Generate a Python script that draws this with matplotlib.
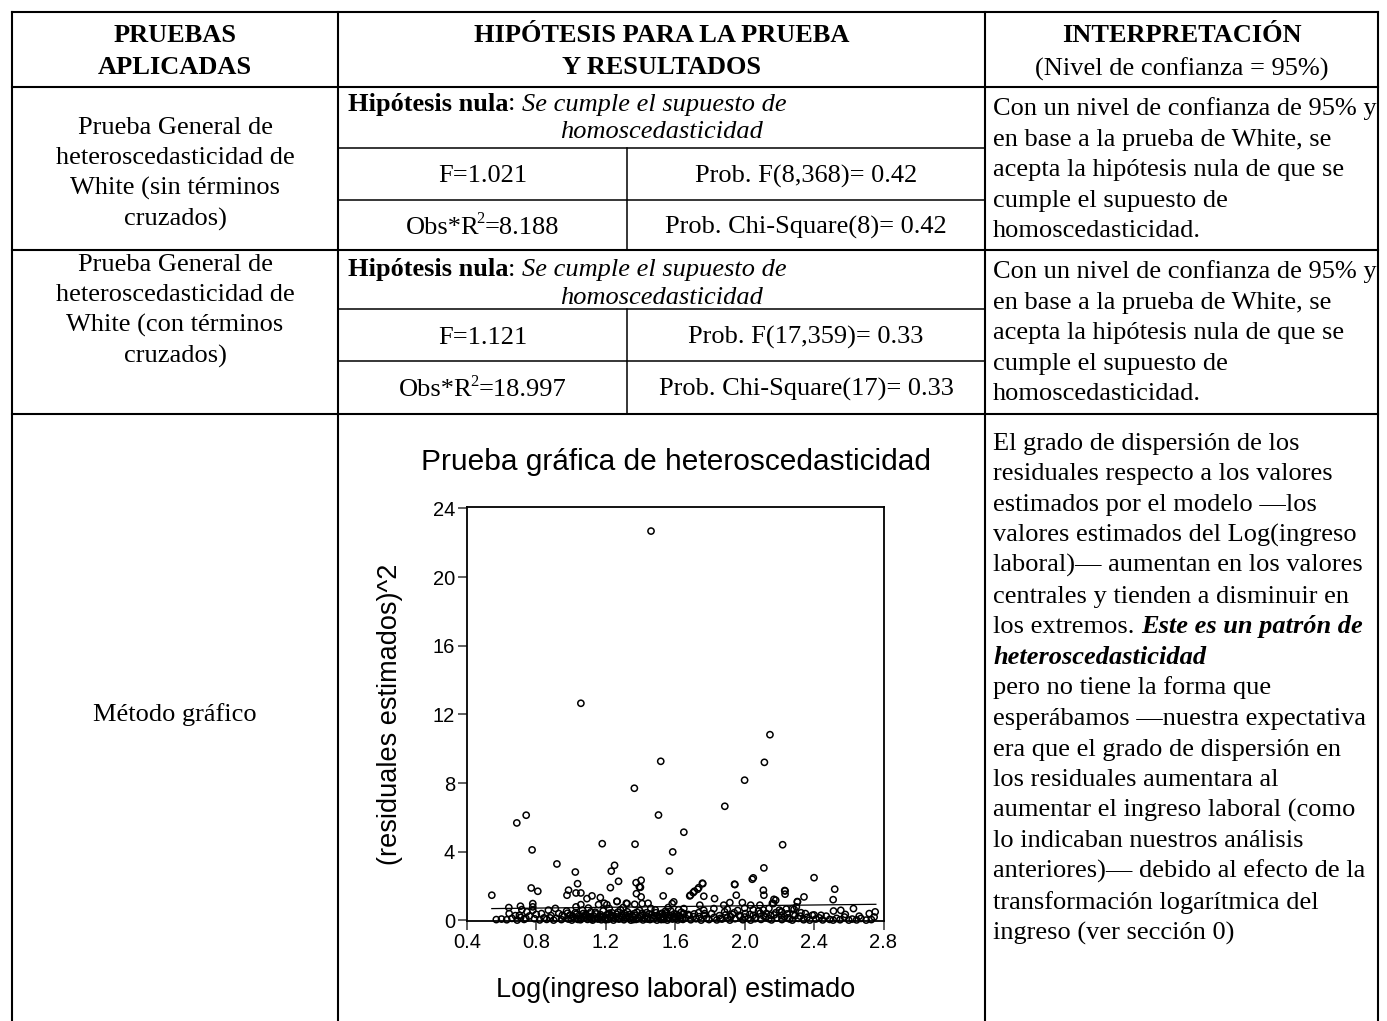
import matplotlib
matplotlib.use("Agg")
import matplotlib.pyplot as plt

# ---------------- DATA ----------------
header_col1 = ["PRUEBAS", "APLICADAS"]
header_col2 = ["HIPÓTESIS PARA LA PRUEBA", "Y RESULTADOS"]
header_col3_bold = "INTERPRETACIÓN"
header_col3_sub = "(Nivel de confianza = 95%)"

test1_name = ["Prueba General de", "heteroscedasticidad de", "White (sin términos", "cruzados)"]
test2_name = ["Prueba General de", "heteroscedasticidad de", "White (con términos", "cruzados)"]
test3_name = "Método gráfico"

null_hyp_label = "Hipótesis nula"
null_hyp_text = "Se cumple el supuesto de"
null_hyp_text2 = "homoscedasticidad"

test1_F = "F=1.021"
test1_probF = "Prob. F(8,368)= 0.42"
test1_obs = "8.188"
test1_probChi = "Prob. Chi-Square(8)= 0.42"
test2_F = "F=1.121"
test2_probF = "Prob. F(17,359)= 0.33"
test2_obs = "18.997"
test2_probChi = "Prob. Chi-Square(17)= 0.33"

interp_white = ["Con un nivel de confianza de 95% y", "en base a la prueba de White, se",
                "acepta la hipótesis nula de que se", "cumple el supuesto de",
                "homoscedasticidad."]

interp_graph = [
    [("El grado de dispersión de los", "n")],
    [("residuales respecto a los valores", "n")],
    [("estimados por el modelo —los", "n")],
    [("valores estimados del Log(ingreso", "n")],
    [("laboral)— aumentan en los valores", "n")],
    [("centrales y tienden a disminuir en", "n")],
    [("los extremos. ", "n"), ("Este es un patrón de", "bi")],
    [("heteroscedasticidad", "bi")],
    [("pero no tiene la forma que", "n")],
    [("esperábamos —nuestra expectativa", "n")],
    [("era que el grado de dispersión en", "n")],
    [("los residuales aumentara al", "n")],
    [("aumentar el ingreso laboral (como", "n")],
    [("lo indicaban nuestros análisis", "n")],
    [("anteriores)— debido al efecto de la", "n")],
    [("transformación logarítmica del", "n")],
    [("ingreso (ver sección 0)", "n")],
]

chart_title = "Prueba gráfica de heteroscedasticidad"
x_label = "Log(ingreso laboral) estimado"
y_label = "(residuales estimados)^2"
x_ticks = [0.4, 0.8, 1.2, 1.6, 2.0, 2.4, 2.8]
x_tick_labels = ["0.4", "0.8", "1.2", "1.6", "2.0", "2.4", "2.8"]
y_ticks = [0, 4, 8, 12, 16, 20, 24]
y_tick_labels = ["0", "4", "8", "12", "16", "20", "24"]

# scatter: (Log ingreso estimado, residual^2)
points_high = [
    (1.461, 22.68), (1.057, 12.65), (2.146, 10.82), (1.517, 9.27), (2.114, 9.21),
    (2.000, 8.17), (1.365, 7.70), (1.886, 6.65), (0.742, 6.13), (0.688, 5.68),
    (1.504, 6.14), (1.650, 5.14), (1.180, 4.47), (1.369, 4.44), (2.219, 4.41),
    (0.776, 4.11), (1.586, 3.99), (0.919, 3.29), (1.251, 3.21), (2.111, 3.06),
    (1.025, 2.82), (1.232, 2.87), (1.567, 2.88), (1.274, 2.28), (1.375, 2.20),
    (1.404, 2.34), (1.038, 2.14), (2.050, 2.48), (2.044, 2.40), (1.759, 2.14),
    (2.400, 2.49), (1.757, 2.17), (1.942, 2.11),
]
points_mid = [
    (1.394, 1.95), (1.227, 1.91), (1.377, 1.56), (1.404, 1.37), (0.986, 1.76),
    (0.977, 1.47), (1.029, 1.60), (1.057, 1.60), (1.092, 1.27), (1.121, 1.43),
    (1.169, 1.33), (1.531, 1.43), (0.771, 1.89), (0.809, 1.70), (0.544, 1.47),
    (1.736, 1.91), (1.711, 1.70), (1.688, 1.47), (1.944, 2.09), (1.765, 1.41),
    (1.827, 1.27), (1.952, 1.47), (2.108, 1.76), (2.111, 1.47), (2.169, 1.23),
    (2.519, 1.82), (2.510, 1.21), (2.233, 1.72), (2.233, 1.53), (2.342, 1.37),
    (2.179, 1.18), (1.684, 1.43), (1.704, 1.62), (1.730, 1.82), (1.987, 1.04),
    (1.400, 1.93), (1.265, 1.10), (1.319, 1.00), (1.367, 0.94), (1.444, 1.00),
    (1.192, 1.00), (2.231, 1.74), (2.304, 1.10), (2.160, 1.00),
]
points_low = [
    (0.642, 0.75), (0.644, 0.40), (0.709, 0.83), (0.717, 0.63), (0.780, 0.98),
    (0.780, 0.79), (0.780, 0.59), (0.746, 0.50), (0.703, 0.30), (1.057, 0.92),
    (1.029, 0.79), (1.159, 0.92), (1.207, 0.92), (1.265, 1.12), (1.323, 0.98),
    (1.410, 0.98), (1.544, 0.54), (1.583, 0.98), (1.592, 1.08), (1.915, 1.04),
    (2.035, 0.89), (2.088, 0.89), (1.880, 0.89), (1.823, 0.69), (1.742, 0.89),
    (1.765, 0.59), (1.650, 0.69), (2.166, 0.98), (2.304, 1.08), (2.298, 0.79),
    (2.275, 0.69), (2.627, 0.69), (2.554, 0.59), (2.752, 0.50), (2.213, 0.50),
    (2.718, 0.40), (2.746, 0.20), (2.108, 0.61), (2.212, 0.51), (2.285, 0.65),
    (2.400, 0.32), (2.512, 0.55), (1.220, 0.70), (1.300, 0.75), (1.100, 0.72),
    (1.460, 0.70), (1.560, 0.75), (1.620, 0.62), (1.900, 0.65), (2.000, 0.72),
    (2.050, 0.62), (2.140, 0.70), (2.240, 0.66), (0.870, 0.60), (0.910, 0.70),
]
points_base = [
    (0.57, 0.05), (0.60, 0.08), (0.63, 0.04), (0.66, 0.12), (0.69, 0.02), (0.71, 0.18),
    (0.73, 0.06), (0.76, 0.26), (0.79, 0.10), (0.80, 0.35), (0.82, 0.03), (0.845, 0.15),
    (0.86, 0.06), (0.885, 0.28), (0.90, 0.02), (0.915, 0.12), (0.93, 0.40), (0.945, 0.05),
    (0.96, 0.22), (0.975, 0.55), (0.985, 0.08), (0.995, 0.32), (1.005, 0.02), (1.015, 0.18),
    (1.025, 0.45), (1.035, 0.10), (1.045, 0.28), (1.055, 0.04), (1.065, 0.60), (1.075, 0.15),
    (1.085, 0.35), (1.095, 0.06), (1.105, 0.22), (1.115, 0.50), (1.125, 0.02), (1.135, 0.12),
    (1.145, 0.38), (1.155, 0.08), (1.165, 0.25), (1.175, 0.04), (1.185, 0.55), (1.195, 0.15),
    (1.205, 0.32), (1.215, 0.06), (1.225, 0.20), (1.235, 0.45), (1.245, 0.02), (1.255, 0.12),
    (1.265, 0.36), (1.275, 0.08), (1.285, 0.62), (1.295, 0.18), (1.305, 0.04), (1.315, 0.28),
    (1.325, 0.50), (1.335, 0.10), (1.345, 0.02), (1.355, 0.22), (1.365, 0.40), (1.375, 0.06),
    (1.385, 0.15), (1.395, 0.58), (1.405, 0.30), (1.415, 0.03), (1.425, 0.12), (1.435, 0.45),
    (1.445, 0.20), (1.455, 0.05), (1.465, 0.35), (1.475, 0.10), (1.485, 0.62), (1.495, 0.02),
    (1.505, 0.25), (1.515, 0.15), (1.525, 0.42), (1.535, 0.06), (1.545, 0.30), (1.555, 0.02),
    (1.565, 0.18), (1.575, 0.55), (1.585, 0.08), (1.595, 0.38), (1.605, 0.12), (1.615, 0.03),
    (1.625, 0.26), (1.635, 0.48), (1.645, 0.06), (1.66, 0.15), (1.675, 0.35), (1.69, 0.04),
    (1.705, 0.22), (1.72, 0.10), (1.735, 0.45), (1.75, 0.02), (1.765, 0.30), (1.78, 0.12),
    (1.795, 0.05), (1.81, 0.40), (1.825, 0.18), (1.84, 0.03), (1.855, 0.28), (1.87, 0.08),
    (1.885, 0.50), (1.90, 0.15), (1.915, 0.02), (1.93, 0.35), (1.945, 0.10), (1.96, 0.58),
    (1.975, 0.22), (1.99, 0.04), (2.005, 0.40), (2.02, 0.12), (2.035, 0.02), (2.05, 0.30),
    (2.065, 0.18), (2.08, 0.55), (2.095, 0.06), (2.11, 0.25), (2.125, 0.40), (2.14, 0.10),
    (2.155, 0.03), (2.17, 0.32), (2.185, 0.15), (2.20, 0.60), (2.215, 0.05), (2.23, 0.22),
    (2.245, 0.38), (2.26, 0.08), (2.275, 0.02), (2.29, 0.28), (2.31, 0.12), (2.325, 0.45),
    (2.34, 0.04), (2.36, 0.18), (2.375, 0.02), (2.39, 0.30), (2.41, 0.08), (2.43, 0.15),
    (2.45, 0.03), (2.47, 0.25), (2.49, 0.06), (2.51, 0.02), (2.53, 0.12), (2.55, 0.04),
    (2.575, 0.20), (2.60, 0.02), (2.62, 0.08), (2.645, 0.03), (2.67, 0.12), (2.70, 0.02),
    (2.73, 0.05), (1.00, 0.12), (1.04, 0.06), (1.08, 0.20), (1.12, 0.08), (1.16, 0.14),
    (1.20, 0.04), (1.24, 0.26), (1.28, 0.10), (1.32, 0.16), (1.36, 0.05), (1.40, 0.20),
    (1.44, 0.08), (1.48, 0.28), (1.52, 0.05), (1.56, 0.12), (1.60, 0.22), (1.64, 0.10),
]
points_base2 = [
    (0.98, 0.42), (1.01, 0.25), (1.03, 0.36), (1.06, 0.12), (1.07, 0.40), (1.09, 0.28),
    (1.11, 0.16), (1.13, 0.26), (1.14, 0.48), (1.17, 0.34), (1.18, 0.20), (1.21, 0.12),
    (1.22, 0.42), (1.23, 0.30), (1.26, 0.22), (1.27, 0.48), (1.29, 0.30), (1.31, 0.40),
    (1.33, 0.24), (1.34, 0.36), (1.37, 0.28), (1.38, 0.48), (1.39, 0.10), (1.41, 0.42),
    (1.43, 0.28), (1.45, 0.38), (1.47, 0.18), (1.49, 0.45), (1.51, 0.35), (1.53, 0.22),
    (1.55, 0.45), (1.57, 0.30), (1.59, 0.20), (1.61, 0.35), (1.63, 0.15), (1.65, 0.40),
    (1.68, 0.28), (1.71, 0.38), (1.74, 0.22), (1.77, 0.40), (1.86, 0.12), (1.89, 0.32),
    (1.92, 0.22), (1.94, 0.45), (1.97, 0.30), (2.00, 0.20), (2.03, 0.35), (2.06, 0.10),
    (2.09, 0.42), (2.12, 0.20), (2.15, 0.30), (2.18, 0.45), (2.21, 0.28), (2.25, 0.15),
    (2.28, 0.35), (2.32, 0.25), (2.35, 0.40), (2.44, 0.30), (2.58, 0.35), (2.66, 0.25),
    (0.95, 0.30), (0.88, 0.15), (0.83, 0.40), (0.74, 0.12), (0.68, 0.28),
]
fit_x = [0.544, 2.756]
fit_y = [0.69, 0.94]

# ---------------- FIGURE ----------------
W, H = 1387, 1021
fig = plt.figure(figsize=(W / 100, H / 100), dpi=100)
bg = fig.add_axes([0, 0, 1, 1])
bg.set_xlim(0, W)
bg.set_ylim(H, 0)
bg.axis("off")
renderer = fig.canvas.get_renderer()

SERIF = "Liberation Serif"
SANS = "Liberation Sans"
FS = 19.0

# table grid
X0, X1, XS, X2, X3 = 12, 338, 627, 985, 1378
Y0, YH = 12, 87
R1 = (87, 148, 200, 250)
R2 = (250, 309, 361, 414)
LW_MAJOR, LW_MINOR = 1.5, 1.1
for x in (X0, X1, X2, X3):
    bg.plot([x, x], [Y0, H + 2], color="black", lw=LW_MAJOR, solid_capstyle="projecting")
for y in (Y0, YH, R1[3], R2[3]):
    bg.plot([X0, X3], [y, y], color="black", lw=LW_MAJOR, solid_capstyle="projecting")
for r in (R1, R2):
    bg.plot([X1, X2], [r[1], r[1]], color="black", lw=LW_MINOR)
    bg.plot([X1, X2], [r[2], r[2]], color="black", lw=LW_MINOR)
    bg.plot([XS, XS], [r[1], r[3]], color="black", lw=LW_MINOR)


def width_of(s, **kw):
    t = bg.text(0, 0, "|" + s + "|", **kw)
    t2 = bg.text(0, 0, "||", **kw)
    w = t.get_window_extent(renderer).width - t2.get_window_extent(renderer).width
    t.remove()
    t2.remove()
    return w


def seg_text(x, y, segs, ha="left", fs=FS):
    items = []
    for s, style in segs:
        kw = dict(family=SERIF, fontsize=fs, va="baseline", ha="left", color="black")
        dy = 0
        kern = 0
        if "b" in style:
            kw["fontweight"] = "bold"
        if "i" in style:
            kw["fontstyle"] = "italic"
        if "s" in style:
            kw["fontsize"] = fs * 0.62
            dy = -fs * 1.389 * 0.38
            kern = -2.5
        items.append((s, kw, dy, kern, width_of(s, **kw)))
    total = sum(it[4] + it[3] for it in items)
    x0 = x - total / 2 if ha == "center" else x
    for s, kw, dy, kern, w in items:
        x0 += kern
        bg.text(x0, y + dy, s, **kw)
        x0 += w


BL = 8.5  # baseline offset from visual centre
LS = 30.6

c1 = (X0 + X1) / 2
c2 = (X1 + X2) / 2
c3 = (X2 + X3) / 2
cL = (X1 + XS) / 2
cR = (XS + X2) / 2
TX3 = 993

# header
for i, s in enumerate(header_col1):
    seg_text(c1, 33 + BL + i * 33, [(s, "b")], ha="center")
for i, s in enumerate(header_col2):
    seg_text(c2, 33 + BL + i * 33, [(s, "b")], ha="center")
seg_text(c3, 33 + BL, [(header_col3_bold, "b")], ha="center")
seg_text(c3, 67 + BL, [(header_col3_sub, "n")], ha="center")

# row 1 & 2
for name, top, r, hy, F, pF, obs, pC in (
        (test1_name, 125, R1, 102, test1_F, test1_probF, test1_obs, test1_probChi),
        (test2_name, 262, R2, 267, test2_F, test2_probF, test2_obs, test2_probChi)):
    for i, s in enumerate(name):
        seg_text(c1, top + BL + i * LS, [(s, "n")], ha="center")
    seg_text(348, hy + BL, [(null_hyp_label, "b"), (": ", "n"), (null_hyp_text, "i")])
    seg_text(c2, hy + 28 + BL, [(null_hyp_text2, "i")], ha="center")
    ym1 = (r[1] + r[2]) / 2
    ym2 = (r[2] + r[3]) / 2
    seg_text(cL, ym1 + BL, [(F, "n")], ha="center")
    seg_text(cR, ym1 + BL, [(pF, "n")], ha="center")
    seg_text(cL, ym2 + BL, [("Obs*R", "n"), ("2", "s"), ("=" + obs, "n")], ha="center")
    seg_text(cR, ym2 + BL, [(pC, "n")], ha="center")
    for i, s in enumerate(interp_white):
        seg_text(TX3, r[0] + 19.5 + BL + i * LS, [(s, "n")])

# row 3
seg_text(c1, 712 + BL, [(test3_name, "n")], ha="center")
for i, segs in enumerate(interp_graph):
    seg_text(TX3, 441 + BL + i * LS, segs)

# ---------------- SCATTER ----------------
AX_L, AX_R, AX_T, AX_B = 466.8, 883.5, 506.7, 921.3
ax = fig.add_axes([AX_L / W, 1 - AX_B / H, (AX_R - AX_L) / W, (AX_B - AX_T) / H])
pts = points_high + points_mid + points_low + points_base + points_base2
xs = [p[0] for p in pts]
ys = [p[1] for p in pts]
ax.scatter(xs, ys, s=20, facecolors="none", edgecolors="black", linewidths=1.1,
           clip_on=False, zorder=3)
ax.plot(fit_x, fit_y, color="black", lw=0.9, zorder=2)
ax.set_xlim(0.4, 2.8)
ax.set_ylim(-0.05, 24.1)
ax.set_xticks(x_ticks)
ax.set_xticklabels(x_tick_labels, family=SANS, fontsize=14.5)
ax.set_yticks(y_ticks)
ax.set_yticklabels(y_tick_labels, family=SANS, fontsize=14.5)
ax.tick_params(direction="out", length=6.5, width=1.2, color="#444444", pad=2)
for sp in ax.spines.values():
    sp.set_linewidth(1.3)
    sp.set_color("black")
ax.set_xlabel(x_label, family=SANS, fontsize=19.5)
ax.xaxis.set_label_coords(0.502, -0.166)
ax.set_ylabel(y_label, family=SANS, fontsize=19.5)
ax.yaxis.set_label_coords(-0.185, 0.5)
ax.xaxis.label.set_va("center")
ax.yaxis.label.set_va("center")
ax.text(0.502, 1.107, chart_title, transform=ax.transAxes, ha="center", va="center",
        family=SANS, fontsize=21.5)

fig.savefig("out.png", dpi=100)
